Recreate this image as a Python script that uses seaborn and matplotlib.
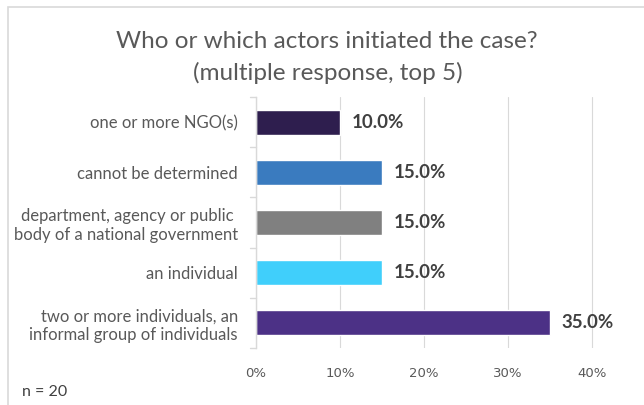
import matplotlib
matplotlib.use("Agg")
import matplotlib.pyplot as plt
import matplotlib.patches as mpatches
from matplotlib.ticker import PercentFormatter
import seaborn as sns
import pandas as pd

categories = [
    "one or more NGO(s)",
    "cannot be determined",
    "department, agency or public \nbody of a national government",
    "an individual",
    "two or more individuals, an\ninformal group of individuals",
]
shares = [0.10, 0.15, 0.15, 0.15, 0.35]
bar_colors = ["#2E1E4E", "#3A7BBF", "#808080", "#40CFFB", "#4C3186"]
value_labels = ["10.0%", "15.0%", "15.0%", "15.0%", "35.0%"]
x_ticks = [0, 0.1, 0.2, 0.3, 0.4]

df = pd.DataFrame({"actor": categories, "share": shares})

sns.set_theme(style="white")
plt.rcParams["font.family"] = ["Lato", "DejaVu Sans"]

fig = plt.figure(figsize=(6.44, 4.05), dpi=100)
ax = fig.add_axes([256 / 644, 1 - 348 / 405, 344 / 644, 251 / 405])

sns.barplot(data=df, x="share", y="actor", hue="actor", palette=bar_colors,
            legend=False, width=0.5, ax=ax, saturation=1, orient="h")

ax.set_xlim(0, 0.41)
ax.set_ylim(len(categories) - 0.5, -0.5)
ax.set_xticks(x_ticks)
ax.xaxis.set_major_formatter(PercentFormatter(1.0, decimals=0))
ax.grid(axis="x", color="#D9D9D9", linewidth=0.8)
ax.set_axisbelow(True)
for s in ["top", "right", "bottom"]:
    ax.spines[s].set_visible(False)
ax.spines["left"].set_color("#D9D9D9")
ax.spines["left"].set_linewidth(1.0)

ax.set_xlabel("")
ax.set_ylabel("")
ax.tick_params(axis="x", length=0, labelcolor="#595959", pad=14)
ax.tick_params(axis="y", length=0, labelsize=12, labelcolor="#595959", pad=13)
for lbl in ax.get_xticklabels():
    lbl.set_family(["DejaVu Sans"])
    lbl.set_fontsize(9.5)

# small tick marks between categories on the left axis
for b in [-0.5, 0.5, 1.5, 2.5, 3.5, 4.5]:
    ax.plot([-0.018, 0], [b, b], color="#D9D9D9", lw=1.0, clip_on=False,
            transform=ax.get_yaxis_transform(), scalex=False, scaley=False)

for i, (v, t) in enumerate(zip(shares, value_labels)):
    ax.text(v + 0.0143, i, t, va="center", ha="left", fontsize=13.5,
            fontweight="bold", color="#404040")

fig.text(327 / 644, 1 - 41 / 405, "Who or which actors initiated the case?",
         ha="center", va="center", fontsize=17.5, color="#595959")
fig.text(328 / 644, 1 - 73 / 405, "(multiple response, top 5)",
         ha="center", va="center", fontsize=17.5, color="#595959")
fig.text(22 / 644, 1 - 392 / 405, "n = 20", ha="left", va="center",
         fontsize=11.5, color="#404040")

fig.patches.append(mpatches.Rectangle((8 / 644, -0.1), 1.2, 1 - 7 / 405 + 0.1,
                                      transform=fig.transFigure, fill=False,
                                      edgecolor="#D9D9D9", linewidth=1.2))

fig.savefig("out.png", dpi=100)
